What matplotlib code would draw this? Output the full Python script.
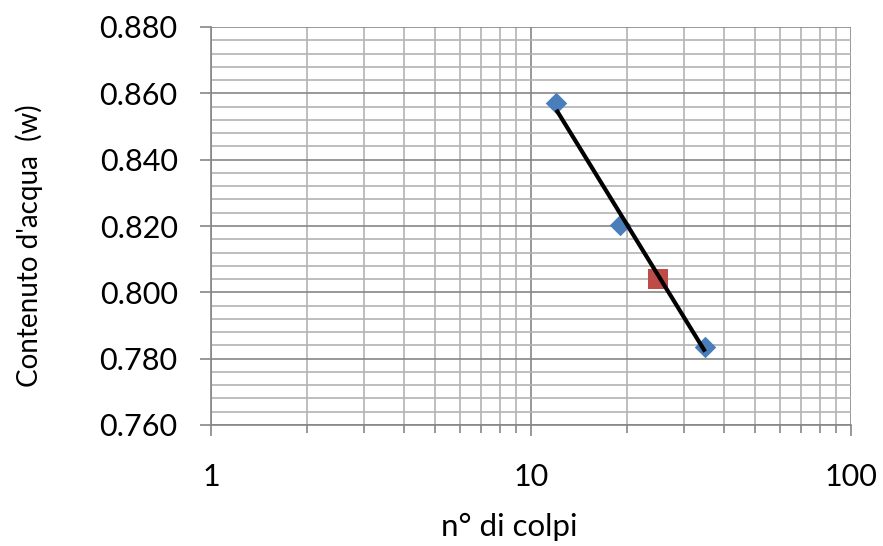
import numpy as np
import matplotlib
matplotlib.use("Agg")
import matplotlib.pyplot as plt
from matplotlib.ticker import FixedLocator, LogLocator, NullFormatter, FuncFormatter

plt.rcParams['font.family'] = ['Lato', 'DejaVu Sans']

colpi = [12, 19, 35]
w_vals = [0.857, 0.8203, 0.7836]
colpi_25 = [25]
w_25 = [0.804]
y_ticks = [0.760, 0.780, 0.800, 0.820, 0.840, 0.860, 0.880]
x_ticks = [1, 10, 100]
x_label = "n° di colpi"
y_label = "Contenuto d'acqua  (w)"

fig = plt.figure(figsize=(8.83, 5.46), dpi=100)
ax = fig.add_axes([211/883, 1-425/546, 640/883, 398/546])
ax.set_xscale('log')
ax.set_xlim(1, 100)
ax.set_ylim(0.760, 0.880)

major_c = '#868686'
minor_c = '#b3b3b3'
ax.yaxis.set_major_locator(FixedLocator(y_ticks))
ax.yaxis.set_minor_locator(FixedLocator(np.arange(0.760, 0.8801, 0.004)))
ax.xaxis.set_major_locator(FixedLocator(x_ticks))
ax.xaxis.set_minor_locator(LogLocator(base=10, subs=np.arange(2, 10)))
ax.xaxis.set_minor_formatter(NullFormatter())
ax.yaxis.set_major_formatter(FuncFormatter(lambda v, p: f"{v:.3f}"))
ax.xaxis.set_major_formatter(FuncFormatter(lambda v, p: f"{v:g}"))

ax.grid(which='minor', color=minor_c, linewidth=1.2, zorder=0)
ax.grid(which='major', color=major_c, linewidth=1.2, zorder=0)
ax.set_axisbelow(True)

for s in ['top', 'right']:
    ax.spines[s].set_visible(False)
for s in ['left', 'bottom']:
    ax.spines[s].set_color(major_c)
    ax.spines[s].set_linewidth(1.2)

ax.tick_params(axis='y', which='major', length=8, width=1.2, color=major_c, labelsize=22, pad=16)
ax.tick_params(axis='y', which='minor', length=0)
ax.tick_params(axis='x', which='major', length=8, width=1.2, color=major_c, labelsize=22, pad=19)
ax.tick_params(axis='x', which='minor', length=6, width=1.2, color=major_c)

ax.scatter(colpi, w_vals, marker='D', s=120, color='#4a7ebb', zorder=3, linewidths=0)
ax.scatter(colpi_25, w_25, marker='s', s=200, color='#be4b48', zorder=3, linewidths=0)

# trend line (logarithmic fit)
lx = np.log10(colpi)
b, a = np.polyfit(lx, w_vals, 1)
xs = np.array([min(colpi), max(colpi)])
ax.plot(xs, a + b*np.log10(xs), color='black', linewidth=3, zorder=4, solid_capstyle='butt')

fig.text(29/883, 1-246/546, y_label, rotation=90, ha='center', va='center', fontsize=20)
fig.text(509/883, 1-527/546, x_label, ha='center', va='center', fontsize=22.5)

fig.savefig('out.png', dpi=100)
